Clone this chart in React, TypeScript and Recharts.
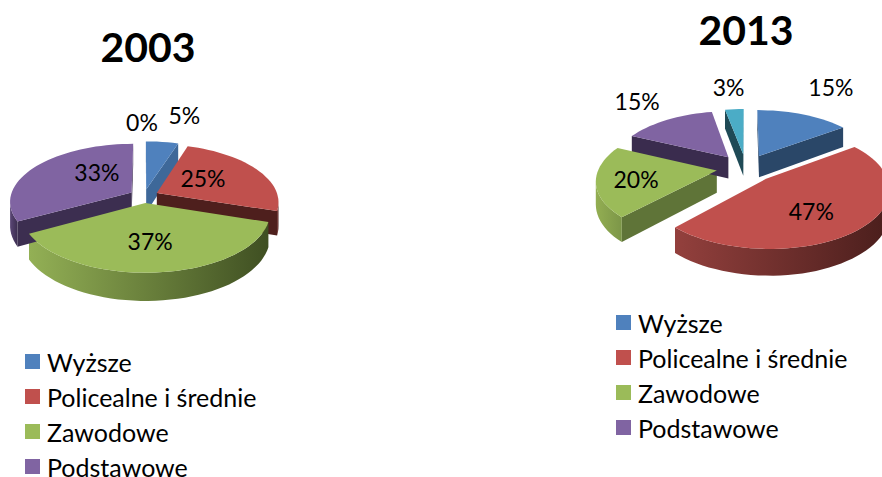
import React from 'react'
import { PieChart, Pie, Legend } from 'recharts'

const categories = ['Wyższe', 'Policealne i średnie', 'Zawodowe', 'Podstawowe', '']
const values2003 = [5, 25, 37, 33, 0]
const values2013 = [15, 47, 20, 15, 3]

const topColors = ['#4F81BD', '#C0504D', '#9BBB59', '#8064A2', '#4BACC6']
const FONT = 'Lato, Carlito, sans-serif'

interface View {
  id: string
  cx: number
  cy: number
  radius: number
  tilt: number // vertical radius of the disc in px
  persp: number
  depth: number
  explode: number
  cutColors: string[]
  rimColors: [string, string][]
  nudges: [number, number][]
}

const view2003: View = {
  id: 'a',
  cx: 144,
  cy: 196,
  radius: 121,
  tilt: 57,
  persp: 0.15,
  depth: 23.5,
  explode: 0.12,
  cutColors: ['#3E6899', '#4E1F1D', '#5F7438', '#3C2E50', '#2A6070'],
  rimColors: [['#3E6899', '#3E6899'], ['#6E2E2C', '#4A1E1C'], ['#93B055', '#3F4F22'], ['#5A4675', '#3C2E50'], ['#2A6070', '#2A6070']],
  nudges: [[28, -44], [-15, 0], [-3, -1], [24, -4], [-2, -37]],
}

const view2013: View = {
  id: 'b',
  cx: 305,
  cy: 168,
  radius: 118,
  tilt: 56,
  persp: 0.15,
  depth: 22,
  explode: 0.25,
  cutColors: ['#2A4768', '#6E2E2C', '#5F7438', '#3A2C4E', '#1F4A56'],
  rimColors: [['#2A4768', '#2A4768'], ['#93403D', '#4A1E1C'], ['#93AE52', '#7C9648'], ['#3A2C4E', '#3A2C4E'], ['#1F4A56', '#1F4A56']],
  nudges: [[44, -43], [-8, 4], [-9, 2], [-53, -33], [-9, -39]],
}

const RAD = Math.PI / 180

// plane coords (x right, z away) to screen, with a bit of perspective
function project(v: View, cx: number, cy: number, x: number, z: number) {
  const d = 1 + v.persp * z
  return { x: cx + (v.radius * x) / d, y: cy - (v.tilt * z) / d, d }
}

function outline(v: View, p: any) {
  const mid = ((p.startAngle + p.endAngle) / 2) * RAD
  const ex = v.explode * Math.cos(mid)
  const ez = v.explode * Math.sin(mid)
  const apex = project(v, p.cx, p.cy, ex, ez)
  const steps = Math.max(2, Math.ceil(Math.abs(p.startAngle - p.endAngle) / 3))
  const arc = []
  for (let i = 0; i <= steps; i++) {
    const a = (p.startAngle + ((p.endAngle - p.startAngle) * i) / steps) * RAD
    arc.push(project(v, p.cx, p.cy, ex + Math.cos(a), ez + Math.sin(a)))
  }
  return { apex, arc }
}

const toPath = (pts: { x: number; y: number }[]) =>
  pts.map((q, i) => `${i ? 'L' : 'M'}${q.x.toFixed(1)},${q.y.toFixed(1)}`).join('') + 'Z'

function wallShape(v: View) {
  return (p: any) => {
    if (p.startAngle === p.endAngle) return <g />
    const { apex, arc } = outline(v, p)
    const low = (q: any) => ({ x: q.x, y: q.y + v.depth / q.d })
    const first = arc[0]
    const last = arc[arc.length - 1]
    const faces = []
    if (first.x < apex.x) faces.push([apex, first, low(first), low(apex)])
    if (apex.x < last.x) faces.push([last, apex, low(apex), low(last)])
    const rim = arc.filter((q, i) => (i > 0 && q.x < arc[i - 1].x) || (i < arc.length - 1 && arc[i + 1].x < q.x))
    const gid = `rim-${v.id}-${p.index}`
    const [c0, c1] = v.rimColors[p.index]
    return (
      <g>
        <defs>
          <linearGradient id={gid} x1="0" x2="1" y1="0" y2="0">
            <stop offset="0%" stopColor={c0} />
            <stop offset="100%" stopColor={c1} />
          </linearGradient>
        </defs>
        {faces.map((f, i) => (
          <path key={i} d={toPath(f)} fill={v.cutColors[p.index]} />
        ))}
        {rim.length > 1 && <path d={toPath([...rim, ...[...rim].reverse().map(low)])} fill={`url(#${gid})`} />}
      </g>
    )
  }
}

function topShape(v: View) {
  return (p: any) => {
    if (p.startAngle === p.endAngle) return <g />
    const { apex, arc } = outline(v, p)
    return <path d={toPath([apex, ...arc])} fill={p.fill} />
  }
}

function sliceLabel(v: View) {
  return (p: any) => {
    const mid = p.midAngle * RAD
    const reach = v.explode + 0.6
    const at = project(v, p.cx, p.cy, reach * Math.cos(mid), reach * Math.sin(mid))
    const [dx, dy] = v.nudges[p.index]
    return (
      <text
        x={at.x + dx}
        y={at.y + dy}
        textAnchor="middle"
        dominantBaseline="central"
        fontFamily={FONT}
        fontSize={23}
        fill="#000"
      >
        {p.value}%
      </text>
    )
  }
}

function LegendList({ payload }: any) {
  const seen = new Set<string>()
  const items = (payload || []).filter((e: any) => {
    if (!e.value || seen.has(e.value)) return false
    seen.add(e.value)
    return true
  })
  return (
    <div style={{ fontFamily: FONT, fontSize: 25, color: '#000' }}>
      {items.map((e: any) => (
        <div key={e.value} style={{ display: 'flex', alignItems: 'center', height: 35, whiteSpace: 'nowrap' }}>
          <span style={{ width: 15, height: 15, background: e.color, marginRight: 7, flex: 'none' }} />
          <span style={{ lineHeight: '20px' }}>{e.value}</span>
        </div>
      ))}
    </div>
  )
}

function YearPie({ values, view, left, legendLeft, legendTop }: any) {
  const rows = categories.map((name, i) => ({ name, value: values[i], fill: topColors[i] }))
  const wall = wallShape(view)
  const top = topShape(view)
  return (
    <div style={{ position: 'absolute', left, top: 0 }}>
      <PieChart width={441} height={477} margin={{ top: 0, right: 0, bottom: 0, left: 0 }}>
        <Pie
          data={rows}
          dataKey="value"
          nameKey="name"
          cx={view.cx}
          cy={view.cy}
          outerRadius={view.radius}
          startAngle={90}
          endAngle={-270}
          stroke="none"
          legendType="none"
          shape={wall}
          inactiveShape={wall}
          isAnimationActive={false}
        />
        <Pie
          data={rows}
          dataKey="value"
          nameKey="name"
          cx={view.cx}
          cy={view.cy}
          outerRadius={view.radius}
          startAngle={90}
          endAngle={-270}
          stroke="none"
          shape={top}
          inactiveShape={top}
          label={sliceLabel(view)}
          labelLine={false}
          isAnimationActive={false}
        />
        <Legend
          layout="horizontal"
          verticalAlign="bottom"
          itemSorter={null}
          content={<LegendList />}
          wrapperStyle={{ position: 'absolute', left: legendLeft, top: legendTop, bottom: 'auto', width: 300 }}
        />
      </PieChart>
    </div>
  )
}

const titleStyle: React.CSSProperties = {
  position: 'absolute',
  fontFamily: FONT,
  fontWeight: 700,
  fontSize: 41,
  lineHeight: '48px',
  color: '#000',
  width: 160,
  textAlign: 'center',
}

export default function App() {
  return (
    <div style={{ position: 'fixed', left: 0, top: 0, width: 882, height: 477, background: '#fff', overflow: 'hidden' }}>
      <YearPie values={values2003} view={view2003} left={0} legendLeft={25} legendTop={344} />
      <YearPie values={values2013} view={view2013} left={441} legendLeft={175} legendTop={305} />
      <div style={{ ...titleStyle, left: 68, top: 23 }}>2003</div>
      <div style={{ ...titleStyle, left: 666, top: 6 }}>2013</div>
    </div>
  )
}
